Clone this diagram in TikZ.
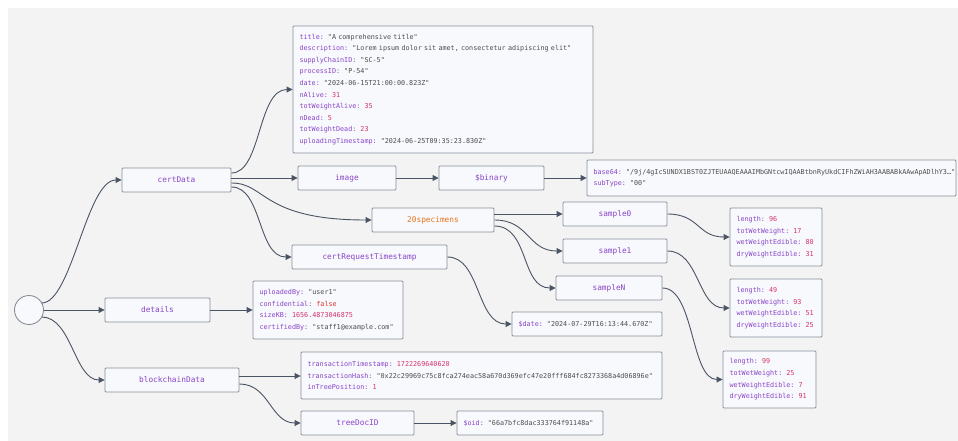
\documentclass[tikz,border=0pt]{standalone}
\usepackage{fontspec}
\setmonofont{DejaVu Sans Mono}
\usetikzlibrary{arrows.meta,calc}

\definecolor{pagebg}{HTML}{F3F3F3}
\definecolor{boxfill}{HTML}{F7F9FC}
\definecolor{boxline}{HTML}{8A9099}
\definecolor{edgecol}{HTML}{4A5464}
\definecolor{keycol}{HTML}{8B45C9}
\definecolor{strcol}{HTML}{4D4D4D}
\definecolor{numcol}{HTML}{D6336C}
\definecolor{boolcol}{HTML}{E03131}
\definecolor{orangecol}{HTML}{E8731C}

% key/value helpers for the data boxes (one fixed-width space after the colon)
\newcommand\dkey[1]{\textcolor{keycol}{#1:}\hspace*{0.602em}}
\newcommand\dstr[1]{\textcolor{strcol}{"#1"}}
\newcommand\dnum[1]{\textcolor{numcol}{#1}}
\newcommand\dbool[1]{\textcolor{boolcol}{#1}}

\tikzset{
  box/.style={draw=boxline, fill=boxfill, line width=0.9pt, rounded corners=1pt},
  label box/.style={box, minimum height=24pt, inner sep=0pt,
    font=\fontsize{7.8}{9}\selectfont\ttfamily, text=keycol},
  data box/.style={box, align=left, inner xsep=6.5pt, inner ysep=0pt,
    font=\fontsize{6.75}{11.6}\selectfont\ttfamily},
  edge/.style={draw=edgecol, line width=0.9pt, -{Triangle[length=6pt,width=6pt]}},
  bend edge/.style 2 args={edge, to path={.. controls +(#1,0) and +(-#2,0) .. (\tikztotarget)}},
}

\begin{document}
\begin{tikzpicture}[x=1pt, y=-1pt]
  \fill[white] (0,0) rectangle (958,441);
  \fill[pagebg] (8,8) rectangle (958,441);
  \useasboundingbox (0,0) rectangle (958,441);

  % root
  \node[circle, draw=boxline, fill=boxfill, line width=0.9pt, minimum size=29pt, inner sep=0pt] (root) at (29,310) {};

  % first level
  \node[label box, minimum width=109pt] (certData) at (176.5,180) {certData};
  \node[label box, minimum width=105pt] (details) at (157.5,310) {details};
  \node[label box, minimum width=134pt] (blockchainData) at (172,380) {blockchainData};

  % certData children
  \node[data box, text width=287pt, minimum height=127pt] (certFields) at (443,89.5) {%
    \dkey{title}\dstr{A comprehensive title}\\
    \dkey{description}\dstr{Lorem ipsum dolor sit amet, consectetur adipiscing elit}\\
    \dkey{supplyChainID}\dstr{SC-5}\\
    \dkey{processID}\dstr{P-54}\\
    \dkey{date}\dstr{2024-06-15T21:00:00.823Z}\\
    \dkey{nAlive}\dnum{31}\\
    \dkey{totWeightAlive}\dnum{35}\\
    \dkey{nDead}\dnum{5}\\
    \dkey{totWeightDead}\dnum{23}\\
    \dkey{uploadingTimestamp}\dstr{2024-06-25T09:35:23.830Z}};
  \node[label box, minimum width=98pt] (image) at (347,178) {image};
  \node[label box, minimum width=105pt] (binary) at (491.5,178) {\$binary};
  \node[data box, text width=356pt, minimum height=36pt] (binData) at (771.5,178) {%
    \dkey{base64}\dstr{/9j/4gIcSUNDX1BST0ZJTEUAAQEAAAIMbGNtcwIQAABtbnRyUkdCIFhZWiAH3AABABkAAwApADlhY3…}\\
    \dkey{subType}\dstr{00}};
  \node[label box, minimum width=122pt, text=orangecol] (specimens) at (433,220) {20specimens};
  \node[label box, minimum width=155pt] (certReq) at (369.5,257) {certRequestTimestamp};
  \node[data box, text width=137pt, minimum height=24pt] (dateVal) at (587,324) {%
    \dkey{\$date}\dstr{2024-07-29T16:13:44.670Z}};

  % specimens
  \node[label box, minimum width=104pt] (sample0) at (615,214) {sample0};
  \node[label box, minimum width=104pt] (sample1) at (615,251) {sample1};
  \node[label box, minimum width=106pt] (sampleN) at (609,288) {sampleN};
  \node[data box, text width=79pt, minimum height=58pt] (s0Data) at (776,237) {%
    \dkey{length}\dnum{96}\\
    \dkey{totWetWeight}\dnum{17}\\
    \dkey{wetWeightEdible}\dnum{80}\\
    \dkey{dryWeightEdible}\dnum{31}};
  \node[data box, text width=79pt, minimum height=58pt] (s1Data) at (776,308) {%
    \dkey{length}\dnum{49}\\
    \dkey{totWetWeight}\dnum{93}\\
    \dkey{wetWeightEdible}\dnum{51}\\
    \dkey{dryWeightEdible}\dnum{25}};
  \node[data box, text width=80pt, minimum height=57pt] (sNData) at (769.5,379.5) {%
    \dkey{length}\dnum{99}\\
    \dkey{totWetWeight}\dnum{25}\\
    \dkey{wetWeightEdible}\dnum{7}\\
    \dkey{dryWeightEdible}\dnum{91}};

  % details
  \node[data box, text width=137pt, minimum height=58pt] (detailsData) at (328,310) {%
    \dkey{uploadedBy}\dstr{user1}\\
    \dkey{confidential}\dbool{false}\\
    \dkey{sizeKB}\dnum{1656.4873046875}\\
    \dkey{certifiedBy}\dstr{staff1@example.com}};

  % blockchain data
  \node[data box, text width=348pt, minimum height=47pt] (txData) at (481.5,375.5) {%
    \dkey{transactionTimestamp}\dnum{1722269640620}\\
    \dkey{transactionHash}\dstr{0x22c29969c75c8fca274eac58a670d369efc47e20fff684fc8273368a4d06896e}\\
    \dkey{inTreePosition}\dnum{1}};
  \node[label box, minimum width=113pt] (treeDoc) at (357.5,423) {treeDocID};
  \node[data box, text width=133pt, minimum height=24pt] (oidVal) at (530,423) {%
    \dkey{\$oid}\dstr{66a7bfc8dac333764f91148a}};

  % connectors
  \draw[bend edge={30}{35}] ($(root.center)+(12.7,-7)$) to (certData.west);
  \draw[edge] (root.east) -- (details.west);
  \draw[bend edge={30}{30}] ($(root.center)+(12.7,7)$) to (blockchainData.west);

  \draw[bend edge={30}{35}] ($(certData.east)+(0,-7)$) to (certFields.west);
  \draw[edge] ($(certData.east)+(0,-2)$) -- (image.west);
  \draw[bend edge={35}{110}] ($(certData.east)+(0,3)$) to (specimens.west);
  \draw[bend edge={31}{34}] ($(certData.east)+(0,7)$) to (certReq.west);

  \draw[edge] (image) -- (binary);
  \draw[edge] (binary) -- (binData);
  \draw[bend edge={33}{35}] (certReq.east) to (dateVal.west);

  \draw[edge] ($(specimens.east)+(0,-6)$) -- (sample0.west);
  \draw[bend edge={35}{35}] (specimens.east) to (sample1.west);
  \draw[bend edge={35}{35}] ($(specimens.east)+(0,6)$) to (sampleN.west);

  \draw[bend edge={32}{32}] (sample0.east) to (s0Data.west);
  \draw[bend edge={32}{32}] (sample1.east) to (s1Data.west);
  \draw[bend edge={32}{32}] (sampleN.east) to (sNData.west);

  \draw[edge] (details) -- (detailsData);

  \draw[edge] ($(blockchainData.east)+(0,-4)$) -- ($(txData.west)+(0,0.5)$);
  \draw[bend edge={30}{30}] ($(blockchainData.east)+(0,4)$) to (treeDoc.west);
  \draw[edge] (treeDoc) -- (oidVal);
\end{tikzpicture}
\end{document}
